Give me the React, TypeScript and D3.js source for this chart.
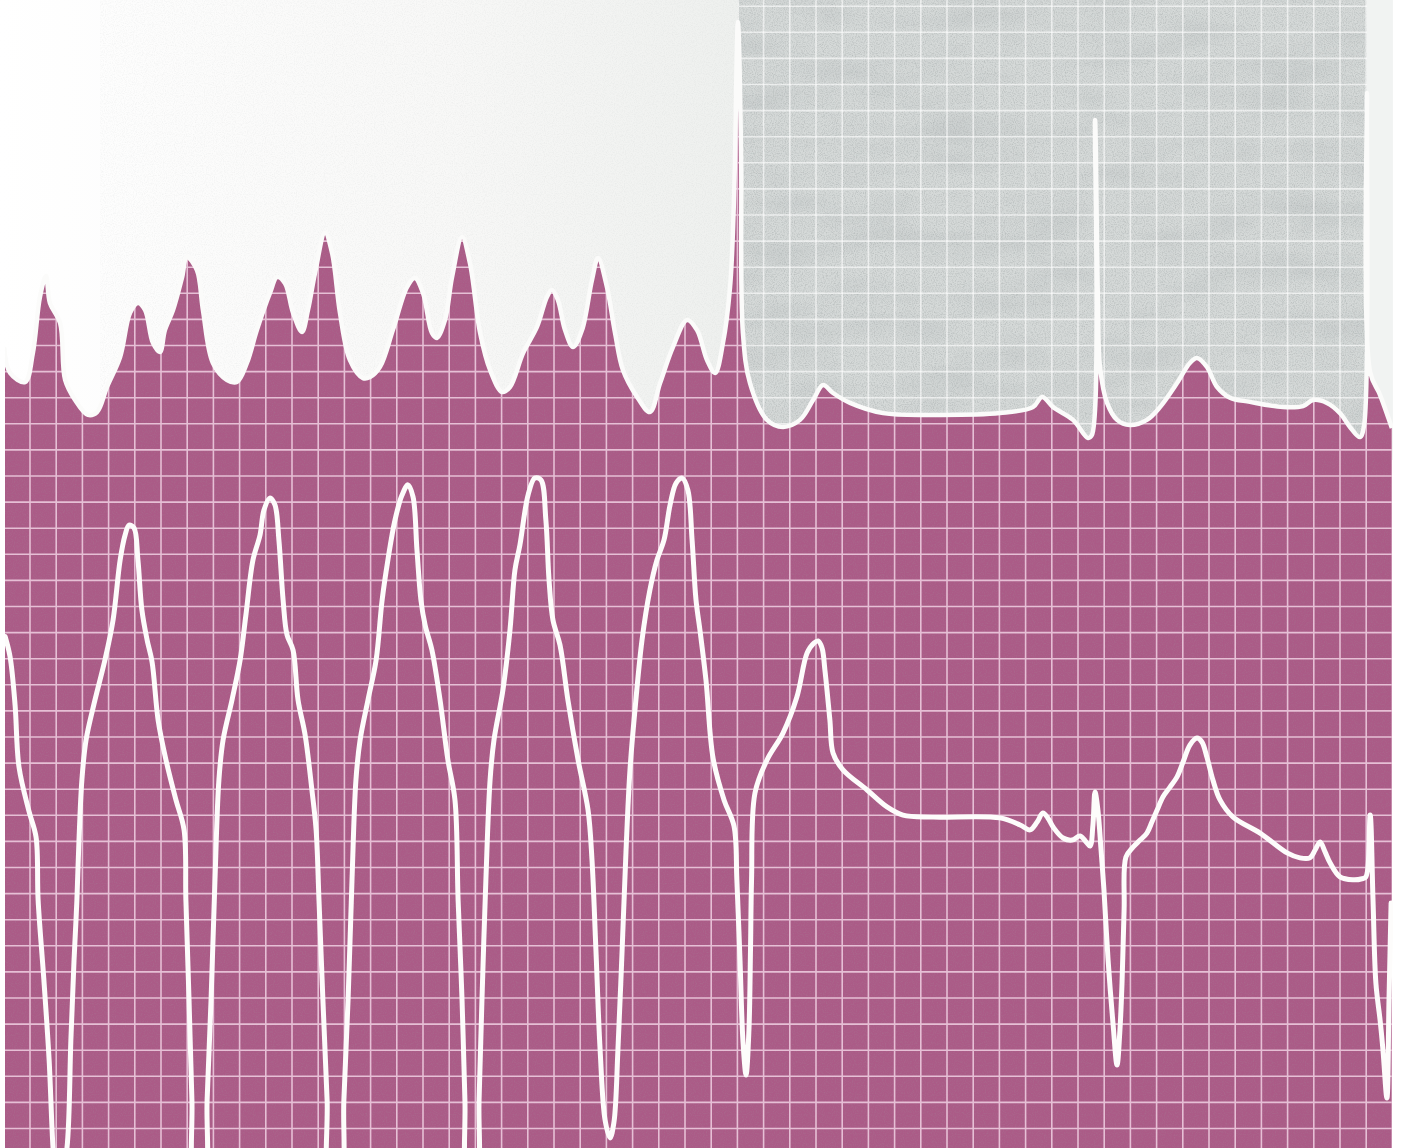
import { useEffect, useRef } from "react";
import * as d3 from "d3";

const WIDTH = 1404;
const HEIGHT = 1148;

// upper lead: time in grid boxes from the first full gridline, amplitude in boxes
const upperTime = [
  -0.99, -0.76, -0.19, 0.11, 0.38, 0.61, 0.76, 1.15, 1.34, 1.72,
  2.21, 2.56, 2.94, 3.44, 3.82, 4.12, 4.39, 4.69, 4.96, 5.15,
  5.46, 5.8, 5.99, 6.37, 6.6, 6.98, 7.52, 7.9, 8.28, 8.66,
  9.16, 9.43, 9.73, 10.04, 10.38, 10.61, 10.88, 11.26, 11.53, 11.83,
  12.21, 12.71, 12.98, 13.36, 13.85, 14.39, 14.69, 15.0, 15.34, 15.53,
  15.84, 16.11, 16.49, 16.79, 17.18, 17.56, 18.02, 18.32, 18.82, 19.35,
  19.73, 19.92, 20.15, 20.42, 20.73, 21.07, 21.45, 21.68, 22.02, 22.33,
  22.63, 23.17, 23.66, 24.05, 24.54, 25.08, 25.46, 25.84, 26.15, 26.45,
  26.72, 26.87, 27.02, 27.14, 27.21, 27.48, 28.13, 28.74, 29.39, 29.89,
  30.27, 30.65, 31.3, 32.56, 34.47, 37.02, 38.28, 38.63, 39.05, 39.81,
  40.38, 40.53, 40.65, 40.76, 40.84, 41.11, 41.49, 41.98, 42.63, 43.13,
  43.78, 44.27, 44.54, 44.92, 45.31, 45.8, 46.56, 47.82, 48.59, 48.97,
  49.5, 50.0, 50.38, 50.76, 50.92, 51.03, 51.15, 51.53, 51.98,
];
const upperAmp = [
  1.94, 0.95, 0.6, 1.71, 3.86, 4.66, 3.63, 2.86, 0.68, -0.09,
  -0.66, -0.55, 0.41, 1.56, 3.25, 3.63, 3.36, 2.1, 1.75, 2.59,
  3.36, 4.59, 5.39, 4.89, 3.36, 1.33, 0.68, 0.6, 1.33, 2.59,
  4.01, 4.62, 4.39, 3.25, 2.52, 3.36, 4.78, 6.31, 5.54, 3.25,
  1.44, 0.75, 0.79, 1.18, 2.59, 4.24, 4.59, 4.01, 2.48, 2.29,
  2.98, 4.62, 6.16, 5.16, 2.48, 1.06, 0.22, 0.41, 1.71, 2.71,
  3.86, 4.13, 3.74, 2.59, 1.94, 2.59, 4.51, 5.35, 4.24, 2.48,
  1.06, 0.03, -0.55, 0.56, 1.94, 2.98, 2.59, 1.44, 0.95, 2.1,
  4.24, 7.57, 14.39, 9.49, 2.48, 0.56, -0.85, -1.12, -0.85, -0.09,
  0.49, 0.18, -0.2, -0.59, -0.66, -0.59, -0.36, 0.03, -0.36, -0.85,
  -1.54, -1.43, 10.64, 3.74, 1.18, -0.2, -0.85, -1.05, -0.85, -0.36,
  0.56, 1.33, 1.52, 1.18, 0.41, 0.0, -0.16, -0.36, -0.32, -0.09,
  -0.2, -0.59, -1.12, -1.51, -1.05, 11.67, 0.98, 0.1, -1.16,
];

// lower lead, same units
const lowerTime = [
  -0.95, -0.76, -0.57, -0.42, -0.04, 0.23, 0.31, 0.53, 0.73, 0.88,
  0.99, 1.18, 1.41, 1.56, 1.68, 1.79, 1.87, 1.98, 2.14, 2.48,
  2.86, 3.17, 3.44, 3.63, 3.78, 3.97, 4.12, 4.27, 4.47, 4.66,
  4.89, 5.19, 5.57, 5.88, 5.95, 6.07, 6.18, 6.3, 6.64, 6.76,
  6.91, 7.06, 7.21, 7.37, 7.71, 8.02, 8.24, 8.51, 8.78, 8.93,
  9.16, 9.35, 9.5, 9.66, 9.81, 10.04, 10.23, 10.5, 10.76, 10.92,
  11.03, 11.18, 11.34, 11.45, 11.83, 11.98, 12.14, 12.29, 12.44, 12.6,
  12.9, 13.21, 13.44, 13.66, 13.93, 14.2, 14.43, 14.62, 14.77, 14.92,
  15.08, 15.34, 15.65, 15.95, 16.22, 16.34, 16.49, 16.6, 16.72, 17.02,
  17.14, 17.25, 17.4, 17.56, 17.71, 18.05, 18.32, 18.51, 18.7, 19.01,
  19.27, 19.5, 19.69, 19.81, 19.96, 20.23, 20.53, 20.92, 21.3, 21.45,
  21.6, 21.76, 21.95, 22.14, 22.29, 22.44, 22.6, 22.75, 22.9, 23.09,
  23.36, 23.66, 23.93, 24.2, 24.43, 24.66, 24.89, 25.11, 25.27, 25.42,
  25.57, 25.8, 26.07, 26.49, 26.87, 26.98, 27.1, 27.21, 27.33, 27.44,
  27.5, 27.54, 27.67, 28.13, 28.74, 29.27, 29.66, 29.92, 30.08, 30.23,
  30.34, 30.53, 30.65, 31.03, 31.95, 32.71, 33.32, 34.47, 37.02, 37.79,
  38.17, 38.44, 38.66, 38.85, 39.05, 39.43, 39.77, 40.08, 40.31, 40.46,
  40.57, 40.65, 40.76, 40.88, 40.99, 41.15, 41.34, 41.49, 41.6, 41.68,
  41.76, 41.83, 42.1, 42.37, 42.63, 42.82, 43.02, 43.24, 43.51, 43.78,
  44.01, 44.27, 44.54, 44.73, 44.92, 45.15, 45.42, 45.92, 46.95, 47.98,
  48.47, 48.85, 49.05, 49.24, 49.43, 49.62, 50.0, 50.5, 50.84, 50.99,
  51.15, 51.26, 51.37, 51.53, 51.64, 51.79, 51.87, 51.95,
];
const lowerAmp = [
  6.85, 6.07, 4.23, 1.85, 0.16, -0.83, -3.25, -6.31, -9.38, -12.75,
  -13.97, -13.97, -12.75, -8.61, -5.57, -3.25, -0.95, 1.35, 2.89, 4.42,
  5.95, 7.48, 9.78, 10.74, 11.12, 11.01, 9.78, 7.87, 6.72, 5.87,
  3.65, 2.12, 0.59, -0.56, -3.25, -7.08, -10.91, -13.97, -13.97, -10.91,
  -7.08, -2.48, 1.35, 2.89, 4.42, 5.95, 7.67, 9.78, 10.74, 11.7,
  12.16, 11.89, 10.55, 8.25, 6.91, 6.33, 4.42, 3.08, 0.97, -0.56,
  -3.25, -7.08, -10.91, -13.97, -13.97, -10.91, -7.08, -2.48, 1.35, 2.89,
  4.42, 5.95, 8.25, 9.78, 11.31, 12.27, 12.66, 12.2, 10.16, 8.25,
  7.29, 6.33, 4.42, 2.12, 0.59, -3.25, -7.08, -10.91, -13.97, -13.97,
  -10.91, -7.08, -2.48, 1.35, 2.89, 4.8, 7.1, 9.4, 10.36, 12.27,
  12.92, 12.85, 11.31, 9.02, 7.48, 6.52, 4.42, 2.12, 0.2, -1.71,
  -5.16, -8.99, -11.68, -12.36, -11.75, -8.99, -5.16, -1.33, 1.74, 4.03,
  6.72, 8.63, 9.78, 10.55, 11.89, 12.73, 12.92, 12.46, 10.55, 8.25,
  7.1, 5.18, 2.2, 0.59, -0.41, -2.48, -5.57, -8.61, -9.95, -8.23,
  -5.16, -2.48, 0.85, 2.12, 3.15, 4.53, 6.22, 6.6, 6.68, 6.41,
  5.57, 3.65, 2.39, 1.74, 0.97, 0.32, 0.01, -0.07, -0.1, -0.37,
  -0.56, -0.26, 0.09, -0.1, -0.45, -0.87, -0.95, -0.79, -1.02, -1.18,
  -0.37, 0.89, 0.2, -1.33, -2.85, -5.57, -8.02, -9.57, -8.23, -6.43,
  -3.6, -1.6, -1.22, -0.95, -0.68, -0.26, 0.2, 0.7, 1.08, 1.47,
  2.04, 2.69, 2.96, 2.81, 2.23, 1.35, 0.59, -0.07, -0.68, -1.44,
  -1.63, -1.63, -1.33, -1.02, -1.4, -1.82, -2.36, -2.47, -2.43, -2.36,
  0.01, -3.25, -6.43, -7.85, -8.99, -10.83, -7.08, -3.36,
];

const BOXES = 52;
const gridCols = d3.range(-1, BOXES + 1);
const gridRows = d3.range(-13, 32);

const App = () => {
  const svgRef = useRef<SVGSVGElement>(null);

  useEffect(() => {
    if (!svgRef.current) return;
    const svg = d3.select(svgRef.current);
    svg.selectAll("*").remove();

    const x = d3.scaleLinear().domain([0, BOXES]).range([30, 30 + BOXES * 26.2]);
    // baselines of the two leads, 1 box = 26.1px
    const yUpper = d3.scaleLinear().domain([0, 1]).range([397.7, 397.7 - 26.1]);
    const yLower = d3.scaleLinear().domain([0, 1]).range([815.3, 815.3 - 26.1]);

    const upper: [number, number][] = upperTime.map((t, i) => [t, upperAmp[i]]);
    const lower: [number, number][] = lowerTime.map((t, i) => [t, lowerAmp[i]]);

    const curve = d3.curveCatmullRom.alpha(0.5);
    const paperLeft = x(-0.955);
    const paperRight = x(BOXES) + 0.5;
    const greyLeft = x(27.05);
    const greyRight = x(51.03);

    const defs = svg.append("defs");

    const grad = defs
      .append("linearGradient")
      .attr("id", "paperGrad")
      .attr("x1", 0)
      .attr("x2", 1)
      .attr("y1", 0)
      .attr("y2", 0);
    grad.append("stop").attr("offset", "0%").attr("stop-color", "#ffffff");
    grad.append("stop").attr("offset", "60%").attr("stop-color", "#f8f8f7");
    grad.append("stop").attr("offset", "100%").attr("stop-color", "#eef0ee");

    // fine grain
    const grain = defs
      .append("filter")
      .attr("id", "grain")
      .attr("x", 0)
      .attr("y", 0)
      .attr("width", "100%")
      .attr("height", "100%");
    grain
      .append("feTurbulence")
      .attr("type", "fractalNoise")
      .attr("baseFrequency", 0.9)
      .attr("numOctaves", 2)
      .attr("seed", 3);
    grain
      .append("feColorMatrix")
      .attr("type", "matrix")
      .attr("values", "0 0 0 0 0.35  0 0 0 0 0.38  0 0 0 0 0.38  1.8 0 0 0 -0.75");

    // soft blotches, mostly horizontal bands
    const blotch = defs
      .append("filter")
      .attr("id", "blotch")
      .attr("x", 0)
      .attr("y", 0)
      .attr("width", "100%")
      .attr("height", "100%");
    blotch
      .append("feTurbulence")
      .attr("type", "fractalNoise")
      .attr("baseFrequency", "0.012 0.035")
      .attr("numOctaves", 2)
      .attr("seed", 11);
    blotch
      .append("feColorMatrix")
      .attr("type", "matrix")
      .attr("values", "0 0 0 0 0.55  0 0 0 0 0.58  0 0 0 0 0.58  2.2 0 0 0 -0.95");

    const pinkArea = d3
      .area<[number, number]>()
      .x((d) => x(d[0]))
      .y0(HEIGHT + 40)
      .y1((d) => yUpper(d[1]))
      .curve(curve);

    defs
      .append("clipPath")
      .attr("id", "paperClip")
      .append("rect")
      .attr("x", paperLeft)
      .attr("y", 0)
      .attr("width", paperRight - paperLeft)
      .attr("height", HEIGHT);

    defs
      .append("clipPath")
      .attr("id", "pinkClip")
      .append("path")
      .attr("d", pinkArea(upper));

    defs
      .append("clipPath")
      .attr("id", "greyClip")
      .append("rect")
      .attr("x", greyLeft)
      .attr("y", 0)
      .attr("width", greyRight - greyLeft)
      .attr("height", 460);

    svg.append("rect").attr("width", WIDTH).attr("height", HEIGHT).attr("fill", "#ffffff");

    // pale paper above the trace, left half
    svg
      .append("rect")
      .attr("x", 0)
      .attr("y", 0)
      .attr("width", greyLeft)
      .attr("height", 460)
      .attr("fill", "url(#paperGrad)");
    svg
      .append("rect")
      .attr("x", 100)
      .attr("y", 0)
      .attr("width", greyLeft - 100)
      .attr("height", 460)
      .attr("filter", "url(#grain)")
      .attr("opacity", 0.12);

    // grey photographed strip in the upper right
    const grey = svg.append("g").attr("clip-path", "url(#greyClip)");
    grey
      .append("rect")
      .attr("x", greyLeft)
      .attr("y", 0)
      .attr("width", greyRight - greyLeft)
      .attr("height", 460)
      .attr("fill", "#d5d9d8");
    grey
      .append("rect")
      .attr("x", greyLeft)
      .attr("y", 0)
      .attr("width", greyRight - greyLeft)
      .attr("height", 460)
      .attr("filter", "url(#blotch)")
      .attr("opacity", 0.6);
    grey
      .append("rect")
      .attr("x", greyLeft)
      .attr("y", 0)
      .attr("width", greyRight - greyLeft)
      .attr("height", 460)
      .attr("filter", "url(#grain)")
      .attr("opacity", 0.6);
    grey
      .selectAll("line.gv")
      .data(gridCols)
      .join("line")
      .attr("class", "gv")
      .attr("x1", (d) => x(d))
      .attr("x2", (d) => x(d))
      .attr("y1", 0)
      .attr("y2", 460)
      .attr("stroke", "#ffffff")
      .attr("stroke-opacity", 0.6)
      .attr("stroke-width", 1.6);
    grey
      .selectAll("line.gh")
      .data(gridRows)
      .join("line")
      .attr("class", "gh")
      .attr("x1", greyLeft)
      .attr("x2", greyRight)
      .attr("y1", (d) => yLower(d))
      .attr("y2", (d) => yLower(d))
      .attr("stroke", "#ffffff")
      .attr("stroke-opacity", 0.6)
      .attr("stroke-width", 1.6);

    svg
      .append("rect")
      .attr("x", greyRight)
      .attr("y", 0)
      .attr("width", paperRight - greyRight)
      .attr("height", 460)
      .attr("fill", "#f1f3f2");

    // pink ruled paper below the upper trace
    const paper = svg.append("g").attr("clip-path", "url(#paperClip)");
    const pink = paper.append("g").attr("clip-path", "url(#pinkClip)");
    pink
      .append("rect")
      .attr("x", 0)
      .attr("y", 0)
      .attr("width", WIDTH)
      .attr("height", HEIGHT)
      .attr("fill", "#ab5b87");
    pink
      .append("rect")
      .attr("x", 0)
      .attr("y", 0)
      .attr("width", WIDTH)
      .attr("height", HEIGHT)
      .attr("filter", "url(#grain)")
      .attr("opacity", 0.18);
    pink
      .selectAll("line.v")
      .data(gridCols)
      .join("line")
      .attr("class", "v")
      .attr("x1", (d) => x(d))
      .attr("x2", (d) => x(d))
      .attr("y1", 0)
      .attr("y2", HEIGHT)
      .attr("stroke", "#e6bfd5")
      .attr("stroke-width", 1.6);
    pink
      .selectAll("line.h")
      .data(gridRows)
      .join("line")
      .attr("class", "h")
      .attr("x1", 0)
      .attr("x2", WIDTH)
      .attr("y1", (d) => yLower(d))
      .attr("y2", (d) => yLower(d))
      .attr("stroke", "#e6bfd5")
      .attr("stroke-width", 1.6);

    // traces
    const upperLine = d3
      .line<[number, number]>()
      .x((d) => x(d[0]))
      .y((d) => yUpper(d[1]))
      .curve(curve);
    const lowerLine = d3
      .line<[number, number]>()
      .x((d) => x(d[0]))
      .y((d) => yLower(d[1]))
      .curve(curve);

    paper
      .append("path")
      .attr("d", upperLine(upper))
      .attr("fill", "none")
      .attr("stroke", "#fbfbfa")
      .attr("stroke-width", 4.5)
      .attr("stroke-linejoin", "round");

    paper
      .append("path")
      .attr("d", lowerLine(lower))
      .attr("fill", "none")
      .attr("stroke", "#fdfcfb")
      .attr("stroke-width", 5)
      .attr("stroke-linejoin", "round")
      .attr("stroke-linecap", "round");
  }, []);

  return (
    <div style={{ position: "absolute", left: 0, top: 0 }}>
      <svg ref={svgRef} width={WIDTH} height={HEIGHT} style={{ display: "block" }} />
    </div>
  );
};

export default App;
